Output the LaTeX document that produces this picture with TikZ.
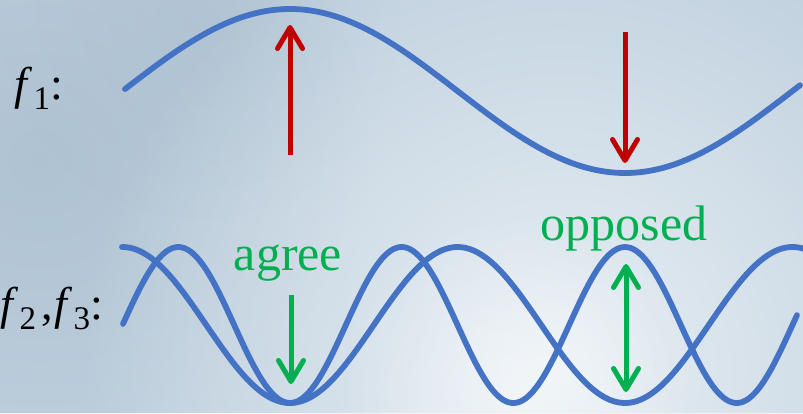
\documentclass[tikz,border=0pt]{standalone}
\usepackage{fontspec}
\setmainfont{Liberation Serif}
\usetikzlibrary{arrows.meta,fadings}
\definecolor{wave}{HTML}{4472C4}
\definecolor{redA}{HTML}{C00000}
\definecolor{greenA}{HTML}{00B050}
\definecolor{skyA}{HTML}{BFD0DE}
\definecolor{skyB}{HTML}{E8EFF4}
\definecolor{skyD}{HTML}{A9BDCD}
\tikzfading[name=softglow, inner color=transparent!0, outer color=transparent!100]
\newcommand{\fsub}[1]{\textit{f}\kern0.03em\raisebox{-0.22em}{\fontsize{33}{35}\selectfont #1}}
\begin{document}
\begin{tikzpicture}[x=1pt,y=-1pt,
  wavestyle/.style={draw=wave,line width=5.8pt,line cap=round,line join=round},
  barb/.tip={Straight Barb[length=21pt,width=25pt,line cap=round,line join=round]},
  redarrow/.style={draw=redA,line width=5pt,-barb},
  greenarrow/.style={draw=greenA,line width=5pt,-barb},
  greendouble/.style={draw=greenA,line width=5pt,barb-barb},
  biglabel/.style={inner sep=0pt,anchor=base west,font=\fontsize{46}{48}\selectfont},
  greenlabel/.style={inner sep=0pt,anchor=base,text=greenA,font=\fontsize{50}{52}\selectfont}]
\useasboundingbox (0,0) rectangle (803,413);
\clip (0,0) rectangle (803,413);
% background sky
\fill[skyA] (0,0) rectangle (803,413);
\fill[skyD,path fading=softglow,opacity=0.7] (40,160) circle (330);
\fill[skyD,path fading=softglow,opacity=0.5] (200,20) circle (200);
\fill[skyB,path fading=softglow] (560,370) circle (480);
\fill[white,path fading=softglow,opacity=0.5] (520,390) circle (180);
% waves
\draw[wavestyle] plot[domain=125:800,samples=200,smooth] (\x,{91-82*cos((\x-290)/670*360)});
\draw[wavestyle] plot[domain=122:806,samples=200,smooth] (\x,{325+78*cos((\x-290)/335*360)});
\draw[wavestyle] plot[domain=123:797,samples=240,smooth] (\x,{325+78*cos((\x-290)/223.333*360)});
% labels
\node[biglabel] (f1) at (14,99) {\fsub{1}:};
\node[biglabel] (f23) at (0,319) {\fsub{2}\kern0.12em,\kern0.02em\fsub{3}:};
\node[greenlabel] (agree) at (288,270) {agree};
\node[greenlabel] (opp) at (624,240) {opposed};
% arrows
\coordinate (r1s) at (290,155);
\coordinate (r1e) at (290,25);
\coordinate (r2s) at (625,32);
\coordinate (r2e) at (625,163);
\coordinate (g1s) at (291,295);
\coordinate (g1e) at (291,384);
\coordinate (g2s) at (626,264);
\coordinate (g2e) at (626,392);
\draw[redarrow] (r1s) -- (r1e);
\draw[redarrow] (r2s) -- (r2e);
\draw[greenarrow] (g1s) -- (g1e);
\draw[greendouble] (g2s) -- (g2e);
\end{tikzpicture}
\end{document}
